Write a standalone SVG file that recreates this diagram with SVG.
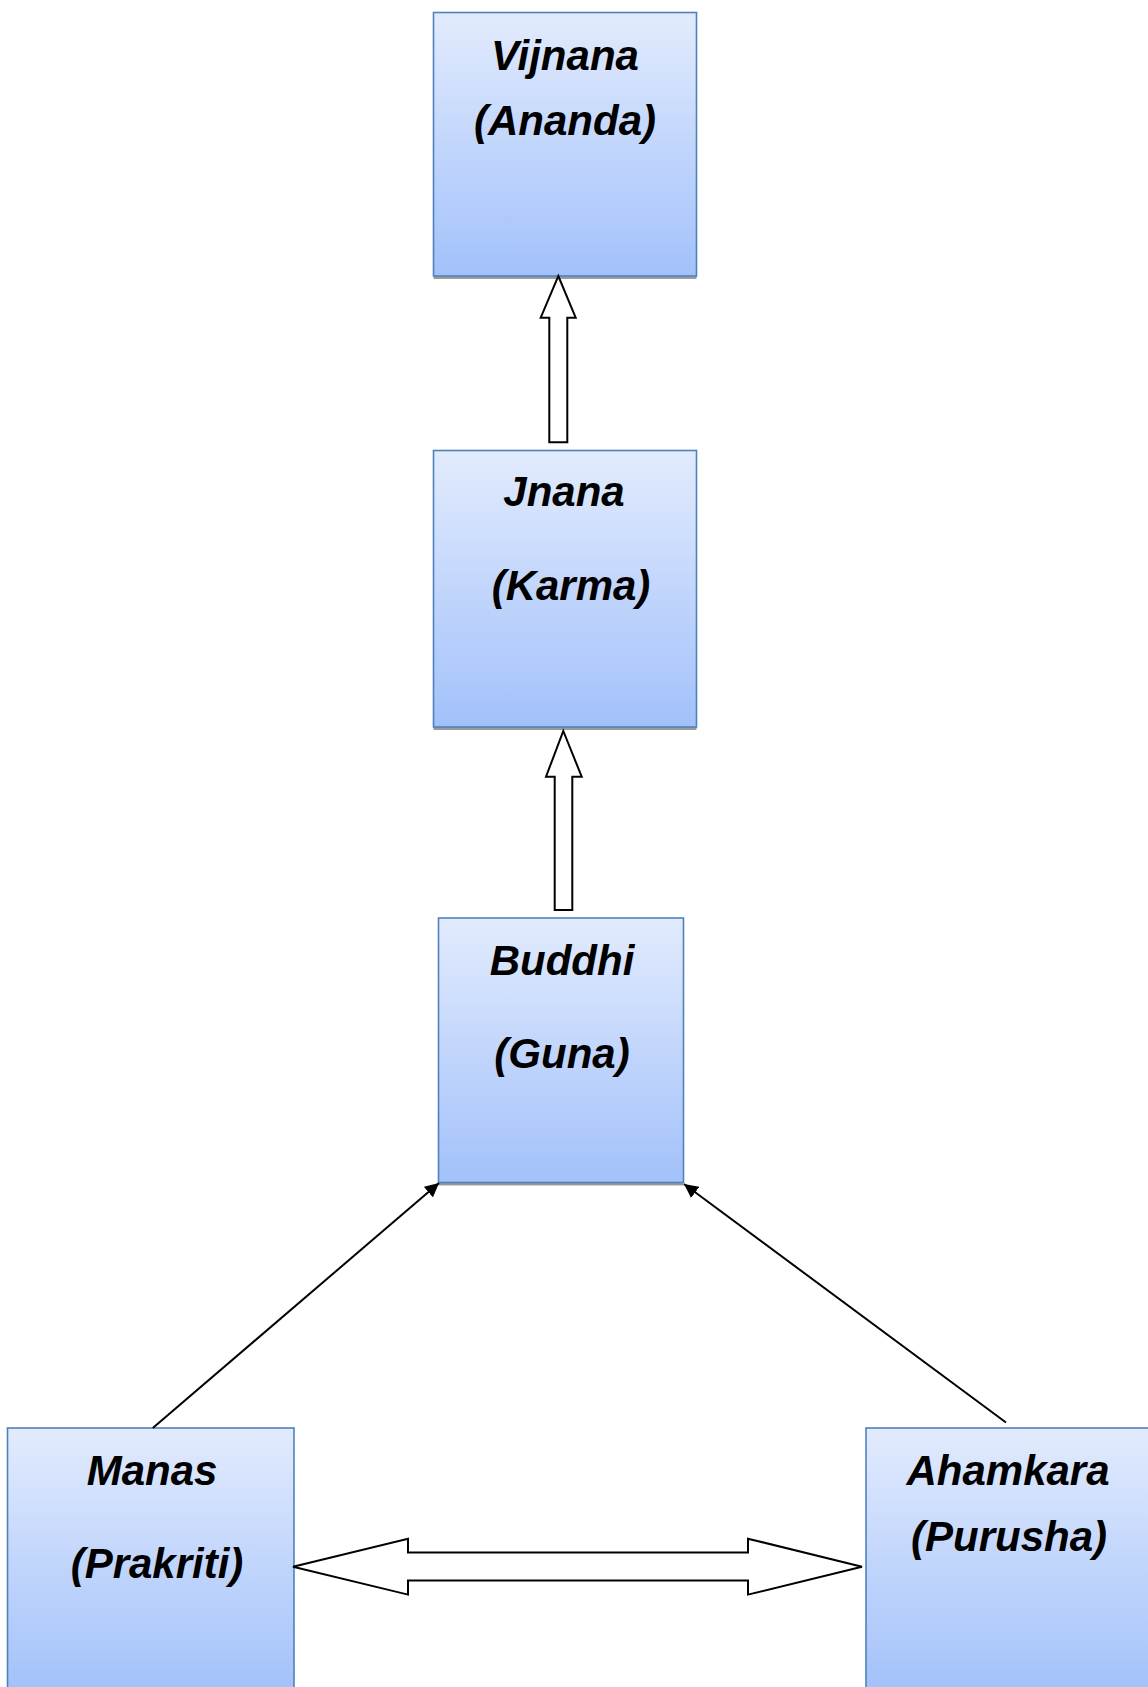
<svg xmlns="http://www.w3.org/2000/svg" width="1148" height="1687" viewBox="0 0 1148 1687">
<defs>
<linearGradient id="g" x1="0" y1="0" x2="0" y2="1">
<stop offset="0" stop-color="#e2ebfd"/>
<stop offset="1" stop-color="#a2c1fa"/>
</linearGradient>
<marker id="ah" viewBox="0 0 10 10" refX="10" refY="5" markerWidth="14" markerHeight="14" markerUnits="userSpaceOnUse" orient="auto">
<path d="M0,0 L10,5 L0,10 z" fill="#000"/>
</marker>
<style>
.box{fill:url(#g);stroke:#4f81bd;stroke-width:1.6}
.sh{fill:#9b9b9b}
.t{font-family:"Liberation Sans",Arial,sans-serif;font-weight:bold;font-style:italic;font-size:42px;fill:#000;text-anchor:middle}
.blk{fill:#fff;stroke:#000;stroke-width:2;stroke-linejoin:miter}
.ln{stroke:#000;stroke-width:2;fill:none}
</style>
</defs>
<rect width="1148" height="1687" fill="#fff"/>
<g id="vijnana">
<rect class="sh" x="433.5" y="15" width="263" height="264"/>
<rect class="box" x="433.5" y="12.5" width="263" height="263.5"/>
<text class="t" x="565" y="70">Vijnana</text>
<text class="t" x="565" y="135">(Ananda)</text>
</g>
<g id="jnana">
<rect class="sh" x="433.5" y="453" width="263" height="277"/>
<rect class="box" x="433.5" y="450.5" width="263" height="276.5"/>
<text class="t" x="564" y="506">Jnana</text>
<text class="t" x="571" y="600">(Karma)</text>
</g>
<g id="buddhi">
<rect class="sh" x="438.5" y="921" width="245" height="264.5"/>
<rect class="box" x="438.5" y="918" width="245" height="264.5"/>
<text class="t" x="562" y="975">Buddhi</text>
<text class="t" x="562" y="1068">(Guna)</text>
</g>
<g id="manas">
<rect class="box" x="7.5" y="1428" width="286.5" height="265"/>
<text class="t" x="152" y="1485">Manas</text>
<text class="t" x="157" y="1578">(Prakriti)</text>
</g>
<g id="ahamkara">
<rect class="box" x="866" y="1428" width="290" height="265"/>
<text class="t" x="1008" y="1485">Ahamkara</text>
<text class="t" x="1009" y="1551">(Purusha)</text>
</g>
<g id="connectors">
<path class="blk" d="M558.3,276 L575.7,317.7 L567.3,317.7 L567.3,442.3 L549.3,442.3 L549.3,317.7 L540.7,317.7 Z"/>
<path class="blk" d="M563.3,731 L581.7,776.7 L572.3,776.7 L572.3,910 L554.7,910 L554.7,776.7 L546,776.7 Z"/>
<path class="blk" d="M293,1566.7 L408,1538.7 L408,1552.6 L748,1552.6 L748,1538.7 L862,1566.7 L748,1594.6 L748,1580.6 L408,1580.6 L408,1594.6 Z"/>
<line class="ln" x1="152.8" y1="1428" x2="439" y2="1183" marker-end="url(#ah)"/>
<line class="ln" x1="1006" y1="1422.5" x2="684" y2="1184" marker-end="url(#ah)"/>
</g>
</svg>
